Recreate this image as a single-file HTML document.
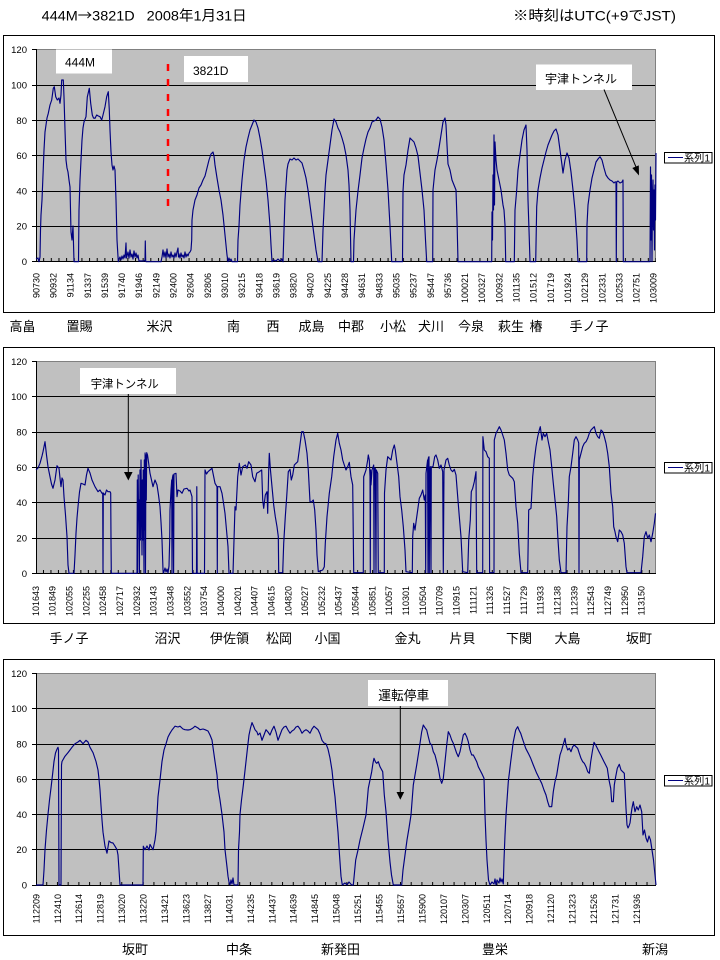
<!DOCTYPE html>
<html><head><meta charset="utf-8">
<style>
html,body{margin:0;padding:0;background:#fff;width:720px;height:960px;overflow:hidden}
svg{display:block}
text{font-family:"Liberation Sans","Noto Sans CJK JP",sans-serif;fill:#000}
.xl{font-size:9px}
.yl{font-size:9.5px}
.st{font-size:13px}
.ser{fill:none;stroke:#000080;stroke-width:1.15;stroke-linejoin:round}
.grid{stroke:#000;stroke-width:1;shape-rendering:crispEdges}
.pb{stroke:#808080;stroke-width:1;shape-rendering:crispEdges}
</style></head>
<body>
<svg width="720" height="960" viewBox="0 0 720 960" xmlns="http://www.w3.org/2000/svg">
<defs>
<pattern id="tk1" patternUnits="userSpaceOnUse" x="35.5" y="0" width="7.654" height="960"><rect x="0" y="0" width="1" height="960" fill="#000"/></pattern>
<pattern id="tk2" patternUnits="userSpaceOnUse" x="35.5" y="0" width="7.48" height="960"><rect x="0" y="0" width="1" height="960" fill="#000"/></pattern>
<pattern id="tk3" patternUnits="userSpaceOnUse" x="35.5" y="0" width="10.72" height="960"><rect x="0" y="0" width="1" height="960" fill="#000"/></pattern>
</defs>

<!-- Header -->
<text x="41.7" y="20.7" font-size="14" textLength="93" lengthAdjust="spacingAndGlyphs">444M<tspan style="font-family:'Noto Sans CJK JP',sans-serif">→</tspan>3821D</text>
<text x="146.7" y="20.7" font-size="14" textLength="100" lengthAdjust="spacingAndGlyphs">2008年1月31日</text>
<text x="513" y="20.7" font-size="14" textLength="163" lengthAdjust="spacingAndGlyphs">※時刻はUTC(+9でJST)</text>

<!-- ================= CHART 1 ================= -->
<rect x="3.5" y="35.5" width="711" height="277" fill="#fff" stroke="#000" stroke-width="1" shape-rendering="crispEdges"/>
<rect x="36" y="49" width="620" height="212.7" fill="#C0C0C0"/>
<line class="pb" x1="36" y1="49.5" x2="656" y2="49.5"/>
<line class="pb" x1="655.5" y1="49" x2="655.5" y2="262"/>
<g class="grid">
<line x1="36" y1="85.5" x2="655" y2="85.5"/>
<line x1="36" y1="120.5" x2="655" y2="120.5"/>
<line x1="36" y1="155.5" x2="655" y2="155.5"/>
<line x1="36" y1="191.5" x2="655" y2="191.5"/>
<line x1="36" y1="226.5" x2="655" y2="226.5"/>
<line x1="36.5" y1="49" x2="36.5" y2="262"/>
<line x1="36" y1="261.5" x2="656" y2="261.5"/>
<line x1="32" y1="49.5" x2="36" y2="49.5"/>
<line x1="32" y1="85.5" x2="36" y2="85.5"/>
<line x1="32" y1="120.5" x2="36" y2="120.5"/>
<line x1="32" y1="155.5" x2="36" y2="155.5"/>
<line x1="32" y1="191.5" x2="36" y2="191.5"/>
<line x1="32" y1="226.5" x2="36" y2="226.5"/>
<line x1="32" y1="261.5" x2="36" y2="261.5"/>
</g>
<rect x="36" y="258" width="620" height="4" fill="url(#tk1)"/>
<g class="yl" text-anchor="end">
<text x="27" y="52.8">120</text>
<text x="27" y="88.5">100</text>
<text x="27" y="123.8">80</text>
<text x="27" y="159.1">60</text>
<text x="27" y="194.4">40</text>
<text x="27" y="229.7">20</text>
<text x="27" y="265">0</text>
</g>

<!-- annotations chart1 (boxes) -->
<rect x="56" y="49.5" width="56" height="24" fill="#fff"/>
<text x="65" y="66.7" font-size="12">444M</text>
<rect x="184" y="56" width="64" height="26" fill="#fff"/>
<text x="193" y="75" font-size="12">3821D</text>
<line x1="168" y1="64" x2="168" y2="208" stroke="#FF0000" stroke-width="2.5" stroke-dasharray="7 8"/>

<polyline class="ser" points="36,259 38,258 39,261.7 40,257 40.5,230 41,215 42,200 43,175 44,150 45,132 46,125 47,118 48.3,113.3 50,105 51.7,100 53.3,88.3 54.3,86.7 55.7,96.7 57.3,100 59,98 60,103.3 61,95 61.7,80 63.3,80 64,97 65,130 66,160 67,168 68,172 69,180 70,187 71,232 72,240 73,226 74,261.7 78.5,261.7 79,210 80,180 81,160 82,140 83,128 84,122 86,116.7 87.3,97 89.3,88.3 90.7,103.3 92.3,115 93.5,118 95,118.3 96.7,115 98.3,116 100,116.7 101.7,120 103,115 105,106.7 106.7,96.7 108.3,91.7 109.3,110 110,130 111,152 112,165 113,170 114,166 115,170 116,200 117,240 118.3,261.7 119,259 120,257 121,260 122,256 123,259 124,255 125,258 126,243 126.5,258 127,256 128,252 129,258 130,250 131,257 132,254 133,259 134,251 135,257 136,253 137,258 138,255 139,261 144,261 145,260 145.3,241 145.7,261 146,261.7 161,261.7 162,257 163,250 164,257 165,252 166,258 167,249 168,257 169,254 170,258 171,252 172,257 173,255 174,258 175,253 176,257 177,252 178,248 178.5,257 179,254 180,258 181,253 182,257 183,255 184,258 185,252 186,257 187,254 188,256 189,253 190,252 191,250 191.7,240 192,220 193,210 195,200 197,195 199,188 201,185 203,180 205,176 207,168 209,160 211,154 213,152 214,156 215,165 217,178 219,190 221,200 223,215 225,235 227,255 228,261.7 229,258 230,261 231,259 232,261.7 237.5,261.7 238,240 239,226 240,205 242,180 244,160 246,147 248,138 250,130 252,125 254,120 256,122 258,128 260,138 262,150 264,165 266,180 268,200 270,226 271,245 272,261.7 274,260 276,261 278,259 280,261 282,259 283,261.7 284,230 285,200 286,185 287,170 288,164 290,159 292,160 294,158 296,160 298,159 300,161 302,163 304,170 306,178 308,190 310,205 312,220 314,235 316,250 318,261.7 322,261.7 323,230 324,210 325,190 326,175 328,160 330,145 332,130 334,119 336,122 338,128 340,132 342,138 344,145 346,155 348,170 349,185 350,210 351,261.7 353.5,261.7 354,240 356,210 358,191 360,175 362,158 364,148 366,139 368,132 370,128 372,122 374,121 376,120 378,117 380,119 382,127 384,140 386,164 388,190 390,226 391.7,261.7 402.5,261.7 403,191 404,175 406,165 408,150 410,138 412,140 414,142 416,148 418,156 420,173 422,190 424,210 425.5,240 426.7,261.7 432.7,261.7 433,190 435,170 437,160 439,148 441,135 443,122 445,118 446,125 447,145 448,164 450,170 452,180 454,185 456,190 457,220 458,261.7 491.7,261.7 492,212 492.5,240 493,175 493.5,210 494,135 494.5,205 495,142 496,160 497,170 499,180 501,190 503,205 504,210 505,225 505.7,261.7 514.3,261.7 515,210 516.7,190 518,170 520,155 522,140 524,130 526,125 527,150 528,200 529,230 530,261.7 535.7,261.7 536.7,206.7 538,190 540,178 542,168 544,160 546,152 548,145 550,140 552,135 554,131 556,129 558,135 560,150 562,165 563,173 565,160 567,153 569,158 571,172 573,190 575,210 577,240 578,261.7 586.7,261.7 587,225 588,205 590,190 592,178 594,170 596,162 598,159 600,156.7 602,160 604,168 606,175 608,178 610,180 612,181 614,183 615,182 616,182 616.3,261.7 616.7,182 618,181 620,183 622,182 623,180 623.3,261.7 650,261.7 650.5,167 651,240 651.5,175 652,261.7 652.5,200 653,180 653.5,230 654,190 654.5,250 655,185 655.5,220 656,153"/>

<rect x="536" y="64.5" width="96" height="25.5" fill="#fff"/>
<text x="545" y="83" font-size="12" textLength="72" lengthAdjust="spacingAndGlyphs">宇津トンネル</text>
<line x1="604" y1="89.5" x2="636" y2="167" stroke="#000" stroke-width="1"/>
<polygon points="639,175.5 632.3,168 638.8,165.4" fill="#000"/>

<!-- legend 1 -->
<rect x="664.5" y="152.5" width="47.5" height="10.5" fill="#fff" stroke="#000" stroke-width="1" shape-rendering="crispEdges"/>
<line x1="668" y1="157.5" x2="683" y2="157.5" stroke="#000080" stroke-width="1"/>
<text x="684" y="161.5" font-size="10" textLength="26" lengthAdjust="spacingAndGlyphs">系列1</text>

<!-- x labels chart1 -->
<g class="xl" text-anchor="end">
<text transform="translate(39.3 273) rotate(-90)">90730</text>
<text transform="translate(56.45 273) rotate(-90)">90932</text>
<text transform="translate(73.6 273) rotate(-90)">91134</text>
<text transform="translate(90.75 273) rotate(-90)">91337</text>
<text transform="translate(107.9 273) rotate(-90)">91539</text>
<text transform="translate(125.05 273) rotate(-90)">91740</text>
<text transform="translate(142.2 273) rotate(-90)">91946</text>
<text transform="translate(159.35 273) rotate(-90)">92149</text>
<text transform="translate(176.5 273) rotate(-90)">92400</text>
<text transform="translate(193.65 273) rotate(-90)">92604</text>
<text transform="translate(210.8 273) rotate(-90)">92806</text>
<text transform="translate(227.95 273) rotate(-90)">93010</text>
<text transform="translate(245.1 273) rotate(-90)">93215</text>
<text transform="translate(262.25 273) rotate(-90)">93418</text>
<text transform="translate(279.4 273) rotate(-90)">93619</text>
<text transform="translate(296.55 273) rotate(-90)">93820</text>
<text transform="translate(313.7 273) rotate(-90)">94020</text>
<text transform="translate(330.85 273) rotate(-90)">94225</text>
<text transform="translate(348 273) rotate(-90)">94428</text>
<text transform="translate(365.15 273) rotate(-90)">94631</text>
<text transform="translate(382.3 273) rotate(-90)">94833</text>
<text transform="translate(399.45 273) rotate(-90)">95035</text>
<text transform="translate(416.6 273) rotate(-90)">95237</text>
<text transform="translate(433.75 273) rotate(-90)">95447</text>
<text transform="translate(450.9 273) rotate(-90)">95736</text>
<text transform="translate(468.05 273) rotate(-90)">100021</text>
<text transform="translate(485.2 273) rotate(-90)">100327</text>
<text transform="translate(502.35 273) rotate(-90)">100932</text>
<text transform="translate(519.5 273) rotate(-90)">101135</text>
<text transform="translate(536.65 273) rotate(-90)">101512</text>
<text transform="translate(553.8 273) rotate(-90)">101719</text>
<text transform="translate(570.95 273) rotate(-90)">101924</text>
<text transform="translate(588.1 273) rotate(-90)">102129</text>
<text transform="translate(605.25 273) rotate(-90)">102331</text>
<text transform="translate(622.4 273) rotate(-90)">102533</text>
<text transform="translate(639.55 273) rotate(-90)">102751</text>
<text transform="translate(656.7 273) rotate(-90)">103009</text>
</g>

<!-- stations chart1 -->
<g class="st">
<text x="9.5" y="331">高畠</text>
<text x="66.5" y="331">置賜</text>
<text x="146.5" y="331">米沢</text>
<text x="227" y="331">南</text>
<text x="266.5" y="331">西</text>
<text x="298.5" y="331">成島</text>
<text x="338" y="331">中郡</text>
<text x="380" y="331">小松</text>
<text x="418" y="331">犬川</text>
<text x="458" y="331">今泉</text>
<text x="498" y="331">萩生</text>
<text x="529.5" y="331">椿</text>
<text x="569.5" y="331">手ノ子</text>
</g>

<!-- ================= CHART 2 ================= -->
<rect x="3.5" y="347.5" width="711" height="276" fill="#fff" stroke="#000" stroke-width="1" shape-rendering="crispEdges"/>
<rect x="36" y="361" width="620" height="212.3" fill="#C0C0C0"/>
<line class="pb" x1="36" y1="361.5" x2="656" y2="361.5"/>
<line class="pb" x1="655.5" y1="361" x2="655.5" y2="573"/>
<g class="grid">
<line x1="36" y1="396.5" x2="655" y2="396.5"/>
<line x1="36" y1="432.5" x2="655" y2="432.5"/>
<line x1="36" y1="467.5" x2="655" y2="467.5"/>
<line x1="36" y1="502.5" x2="655" y2="502.5"/>
<line x1="36" y1="538.5" x2="655" y2="538.5"/>
<line x1="36.5" y1="361" x2="36.5" y2="574"/>
<line x1="36" y1="573.5" x2="656" y2="573.5"/>
<line x1="32" y1="361.5" x2="36" y2="361.5"/>
<line x1="32" y1="396.5" x2="36" y2="396.5"/>
<line x1="32" y1="432.5" x2="36" y2="432.5"/>
<line x1="32" y1="467.5" x2="36" y2="467.5"/>
<line x1="32" y1="502.5" x2="36" y2="502.5"/>
<line x1="32" y1="538.5" x2="36" y2="538.5"/>
<line x1="32" y1="573.5" x2="36" y2="573.5"/>
</g>
<rect x="36" y="570" width="620" height="4" fill="url(#tk2)"/>
<g class="yl" text-anchor="end">
<text x="27" y="364.8">120</text>
<text x="27" y="400">100</text>
<text x="27" y="435.6">80</text>
<text x="27" y="470.8">60</text>
<text x="27" y="506">40</text>
<text x="27" y="541.6">20</text>
<text x="27" y="576.8">0</text>
</g>

<polyline class="ser" points="36,470 38,468 40,463.3 42,456 43,451.7 45,441.7 46.5,455 48,466.7 50,476.7 51.5,484 53,488.3 55,480 57,465.7 59,468.3 60,478 61,486.7 62,478 63,480 64,496.7 65.5,515 67,536.7 68,565 69,573.3 74,573.3 75,555 76,533.3 77,518 78,506.7 79.5,492 81,483.3 83,484 85,485 86.5,475 88,468.3 90,473 92,480 95,486.7 98,491.7 100,490 102,493.3 102.7,493 103,573.3 103.3,493 105,495 106.5,490 108,491.7 110,491.7 110.7,493 111,540 111.3,573.3 137,573.3 137.3,480 137.6,573 138.2,475 138.6,520 139,500 139.4,573 140,470 140.5,540 141,460 141.5,500 142,555 142.4,480 142.8,540 143.2,470 143.6,520 144,573 144.3,460 144.7,530 145.1,453 145.5,573 145.9,455 146.3,500 146.7,452.7 147.5,455 148.5,462 150,473.3 151.5,480 153,486.7 155,480 157,485 158.5,495 160,506.7 161,522 162,540 163,570 163.5,573.3 165,568 166,572 167,569 168,573 169,566 169.7,540 170,510 171,490 171.7,480 172,573.3 172.4,478 173,475 173.6,573.3 174,474 176,473.3 177,496.7 178,490 180,491 182,493.3 184,489 187,488.3 189,491 190,490 192,496.7 192.5,573.3 196.5,573.3 196.8,486.7 197.2,573.3 204.5,573.3 205,470 206.5,474 208,471.7 210,470 212,468.3 213,473.3 215,483.3 217,486.7 217.3,573.3 217.6,486.7 220,486.7 222,493.3 223.5,503 225,513.3 226.5,530 228,546.7 229,573.3 233,573.3 234,540 235,506.7 236,510 237.7,476.7 239.3,463.3 241,475 242.7,466.7 245.3,465 247,468.3 248.7,461.7 251,465 252.7,476.7 255,481.7 256.7,473.3 259.3,471.7 261.7,470 262.7,500 263.7,508.3 265.3,495 267,491.7 267.7,513.3 268.7,470 269.3,453.3 270.3,468.3 272,486.7 273.7,505 275.3,516.7 277,526.7 278.3,536.7 278.7,572.7 282.7,572.7 283.7,543.3 285.3,516.7 286.7,496.7 288.3,471.7 290,469.3 291.3,480 292.7,475 294.3,465 296,463.3 297.7,461.7 299.3,450 301.7,431.7 303.3,431.7 305,440 307,453.3 308.3,470 310,501.7 311.5,502 313.3,500 314.7,510 316,530 317,555 318.3,571.7 322.7,570 324.3,566.7 325.3,543.3 327,516.7 329.3,493.3 331.7,476.7 333.7,456.7 336,440 337.7,433.3 339.3,443.3 341,450 342.7,460 344.3,465 346,470 347.7,466.7 349.3,462.3 351,476.7 352.7,485 353.7,572.7 363.3,572.7 363.7,476.7 364.3,475 366,470 367.7,460 368.3,455 369.3,460 370,476.7 370.3,572.7 370.6,470 371,485 372,470 373.7,465 374,572.7 374.3,468 375.3,468.3 376,572.7 376.3,470 377.7,473.3 378.3,572.7 384.3,572.7 384.5,493 386,470 387.7,456.7 389.3,458.3 391,460 392.7,450 394.3,445 395.3,450 397,463.3 398.7,476.7 400,496.7 401.7,510 403.3,526.7 405,550 406,571.7 412.3,572.7 412.7,536.7 413.7,523.3 415,530 416.3,520 417.7,510 419.3,498.3 421,495 422.7,490 424.3,500 425.3,495 425.7,572.7 426,473.3 427.6,460 428,572.7 428.3,458 429,456.7 429.3,572.7 429.7,470 430.3,466.7 431,572.7 431.3,467 433,466.7 434.7,456.7 436,455 437.7,460 439.3,468.3 441,465 442.7,471.7 443.3,572.7 444,470 446,460 447.7,458.3 449.3,465 451,470 452.7,471.7 454.3,469.3 456,475 457.7,496.7 459.3,516.7 461,536.7 462.7,571.7 467.7,572.7 468.7,540 470.3,520 471.3,491.7 472.7,488.3 474.3,481.7 476,471.7 476.7,572.7 482.7,572.7 482.9,436.7 484.3,450 486,451.7 487.7,456.7 489.3,458.3 489.6,572.7 494,572.7 494.3,440 496,433.3 497.7,430 499.3,426.7 501,430 502.7,435 504.3,440 506,453.3 507.7,470 509.3,475 511,476.7 512.7,478.3 514.3,481.7 516,506.7 517.7,523.3 519.3,553.3 521,572.7 527.7,572.7 528.7,510 531,508.3 532.7,476.7 534.3,460 536,446.7 537.7,436.7 539.3,430 540.3,426.7 542,440 543.3,433.3 545,436.7 546.7,433.3 548.3,441.7 550,450 551.7,466.7 553.3,483.3 555,500 556.7,516.7 558,540 559.3,560 561,572.7 566,572.7 567,526.7 568.3,503.3 569.3,476.7 571,466.7 572.7,453.3 574.3,440 576,436.7 577.7,440 578.7,443 579,572.7 579.3,460 581,453.3 582.7,446.7 584.3,443.3 586,441.7 587.7,438.3 589.3,433.3 591,430 592.7,428.3 594.3,426.7 596,433.3 597.7,436.7 599.3,438.3 601,430 602.7,431.7 604.3,436.7 606,443.3 607.7,453.3 609.3,466.7 611,493.3 612.7,506.7 613.7,526.7 615,531.7 616,536.7 617.7,541.7 619.3,530 621,531.7 622.7,535 624.3,543.3 626,566.7 627,572.7 641,572.7 642.7,556.7 644.3,536.7 646,531.7 647.7,538.3 649.3,535 651,541.7 652.7,533.3 654.3,523.3 655.5,513.3"/>

<rect x="80" y="368" width="96" height="26" fill="#fff"/>
<text x="90.7" y="388" font-size="12" textLength="68" lengthAdjust="spacingAndGlyphs">宇津トンネル</text>
<line x1="128.3" y1="394" x2="128.3" y2="473" stroke="#000" stroke-width="1"/>
<polygon points="124,472 132.6,472 128.3,480.5" fill="#000"/>

<rect x="664.5" y="462.5" width="47.5" height="10.5" fill="#fff" stroke="#000" stroke-width="1" shape-rendering="crispEdges"/>
<line x1="668" y1="467.5" x2="683" y2="467.5" stroke="#000080" stroke-width="1"/>
<text x="684" y="471.5" font-size="10" textLength="26" lengthAdjust="spacingAndGlyphs">系列1</text>

<g class="xl" text-anchor="end">
<text transform="translate(38.8 586) rotate(-90)">101643</text>
<text transform="translate(55.63 586) rotate(-90)">101849</text>
<text transform="translate(72.46 586) rotate(-90)">102055</text>
<text transform="translate(89.29 586) rotate(-90)">102255</text>
<text transform="translate(106.12 586) rotate(-90)">102458</text>
<text transform="translate(122.95 586) rotate(-90)">102717</text>
<text transform="translate(139.78 586) rotate(-90)">102932</text>
<text transform="translate(156.61 586) rotate(-90)">103143</text>
<text transform="translate(173.44 586) rotate(-90)">103348</text>
<text transform="translate(190.27 586) rotate(-90)">103552</text>
<text transform="translate(207.1 586) rotate(-90)">103754</text>
<text transform="translate(223.93 586) rotate(-90)">104000</text>
<text transform="translate(240.76 586) rotate(-90)">104201</text>
<text transform="translate(257.59 586) rotate(-90)">104407</text>
<text transform="translate(274.42 586) rotate(-90)">104615</text>
<text transform="translate(291.25 586) rotate(-90)">104820</text>
<text transform="translate(308.08 586) rotate(-90)">105027</text>
<text transform="translate(324.91 586) rotate(-90)">105232</text>
<text transform="translate(341.74 586) rotate(-90)">105437</text>
<text transform="translate(358.57 586) rotate(-90)">105644</text>
<text transform="translate(375.4 586) rotate(-90)">105851</text>
<text transform="translate(392.23 586) rotate(-90)">110057</text>
<text transform="translate(409.06 586) rotate(-90)">110301</text>
<text transform="translate(425.89 586) rotate(-90)">110504</text>
<text transform="translate(442.72 586) rotate(-90)">110709</text>
<text transform="translate(459.55 586) rotate(-90)">110915</text>
<text transform="translate(476.38 586) rotate(-90)">111121</text>
<text transform="translate(493.21 586) rotate(-90)">111326</text>
<text transform="translate(510.04 586) rotate(-90)">111527</text>
<text transform="translate(526.87 586) rotate(-90)">111729</text>
<text transform="translate(543.7 586) rotate(-90)">111933</text>
<text transform="translate(560.53 586) rotate(-90)">112138</text>
<text transform="translate(577.36 586) rotate(-90)">112339</text>
<text transform="translate(594.19 586) rotate(-90)">112543</text>
<text transform="translate(611.02 586) rotate(-90)">112749</text>
<text transform="translate(627.85 586) rotate(-90)">112950</text>
<text transform="translate(644.68 586) rotate(-90)">113150</text>
</g>

<g class="st">
<text x="49.5" y="643">手ノ子</text>
<text x="154.5" y="643">沼沢</text>
<text x="210" y="643">伊佐領</text>
<text x="266" y="643">松岡</text>
<text x="314.5" y="643">小国</text>
<text x="394.5" y="643">金丸</text>
<text x="449.5" y="643">片貝</text>
<text x="506" y="643">下関</text>
<text x="554.5" y="643">大島</text>
<text x="626" y="643">坂町</text>
</g>

<!-- ================= CHART 3 ================= -->
<rect x="3.5" y="659.5" width="711" height="276" fill="#fff" stroke="#000" stroke-width="1" shape-rendering="crispEdges"/>
<rect x="36" y="673" width="620" height="212" fill="#C0C0C0"/>
<line class="pb" x1="36" y1="673.5" x2="656" y2="673.5"/>
<line class="pb" x1="655.5" y1="673" x2="655.5" y2="885"/>
<g class="grid">
<line x1="36" y1="708.5" x2="655" y2="708.5"/>
<line x1="36" y1="744.5" x2="655" y2="744.5"/>
<line x1="36" y1="779.5" x2="655" y2="779.5"/>
<line x1="36" y1="814.5" x2="655" y2="814.5"/>
<line x1="36" y1="849.5" x2="655" y2="849.5"/>
<line x1="36.5" y1="673" x2="36.5" y2="886"/>
<line x1="36" y1="885.5" x2="656" y2="885.5"/>
<line x1="32" y1="673.5" x2="36" y2="673.5"/>
<line x1="32" y1="708.5" x2="36" y2="708.5"/>
<line x1="32" y1="744.5" x2="36" y2="744.5"/>
<line x1="32" y1="779.5" x2="36" y2="779.5"/>
<line x1="32" y1="814.5" x2="36" y2="814.5"/>
<line x1="32" y1="849.5" x2="36" y2="849.5"/>
<line x1="32" y1="885.5" x2="36" y2="885.5"/>
</g>
<rect x="36" y="882" width="620" height="4" fill="url(#tk3)"/>
<g class="yl" text-anchor="end">
<text x="27" y="676.8">120</text>
<text x="27" y="712">100</text>
<text x="27" y="747.5">80</text>
<text x="27" y="782.6">60</text>
<text x="27" y="817.8">40</text>
<text x="27" y="853">20</text>
<text x="27" y="888.5">0</text>
</g>

<polyline class="ser" points="36,885 43,885 44,870 45,849.7 46.5,830 48,814.4 49.5,800 51,787.9 52.5,775 54,761.5 55.5,753 57,749.1 58,747.3 58.5,750 59,885 61,885 61.5,765 62,761.5 65,756.2 68,752.6 70,750 72,747.3 75,743.8 78,742 80,740.3 83,743.8 86,740.3 88,742 90,747.3 93,752.6 96,761.5 98,770 99,779.1 100,790 101,805.6 102,820 103,832.1 105,846.2 107,853.2 109,840.9 111,842.6 113,843 115,846.2 117,849.7 118,855 119,870 120,885 143,885 143.3,846.2 145,849.7 147,846 149,850 150,844.4 152,848 153,849.7 154,845 155,840 156,832.1 157,815 158,796.8 160,780 162,761.5 164,750 166,743.8 168,737 170,733.2 172,730 175,726.2 178,727 180,726.2 183,729 185,729.7 188,730 190,729.7 193,728 195,726.2 198,728 200,729.7 203,729 205,729.7 208,731 210,735 212,740 213,747.3 215,761.5 217,775 218,787.9 220,800 222,814.4 224,832 225,849.7 227,867 228,876.2 229,882 230,885 231,880 232,884 233,878 234,885 238,885 238.5,849.7 239.5,832 240,814.4 241.5,800 243,787.9 244.5,775 246,761.5 247.5,748 249,735 250.5,728 252,722.6 253.5,726 255,729.7 257,732 258,735 260,733 262,740.3 264,735 266,729.7 268,732 270,735 272,730 274,726.2 276,732 278,740.3 280,735 282,729.7 284,727 286,726.2 288,730 290,733.2 292,731 294,729.7 296,727 298,726.2 300,729 302,733.2 304,731 306,729.7 308,731 310,733.2 312,729 314,726.2 316,728 318,729.7 320,734 322,740.3 324,743 326,743.8 328,749.1 330,758 332,770.3 333.5,785 335,796.8 336.5,815 338,832.1 339.5,855 341,876.2 342.3,885 345,883 347,885 349,882 351.7,885 353.3,885 355.7,860 358,850 360,840 363,828 366,815 368.3,788.3 370,780 371.7,771.7 373,763 374,758.3 375.5,762 376.7,763.3 378.3,761.7 380,766.7 382.7,771.7 384.3,795 386,811.7 388,840 390,862 391.5,875 393.3,885 401.7,885 403,870 405,855 407,840 409,828 411,815 413.3,785 415,775 416.7,765 419.3,748.3 421.7,731.7 423.3,725 425,727.7 426.7,730 428.3,736.7 430,743.3 431.7,745 433.3,751.7 435,755 436.7,761.7 438.3,768.3 440,778.3 441.7,783.3 443.3,778.3 445,761.7 446.7,745 448.3,731.7 450,735 451.7,740 453.3,743.3 455,748.3 456.7,753.3 458.3,756.7 460,751.7 461.7,743.3 463.3,735 465,733.3 466.7,736.7 468.3,741.7 470,750 471.7,755 473.3,755 475,758.3 476.7,761.7 478.3,766.7 480,770 481.7,773.3 484,778.3 485,815 486,840 487,860 488.5,880 490,885 492,882 494,884 495,879 496,885 497,880 499,883 500,878 501,882 502,879 503.3,884 504,860 505,835 506,815 508.3,781.7 510.7,761.7 513.3,741.7 515.7,730 517.7,726.7 519,730 520.7,733.3 522.3,738.3 524,743.3 525.7,748.3 528.3,753.3 530.7,758.3 533.3,765 536.7,773.3 540,780 541.7,783.3 544,790 546,795 547.7,801.7 549.3,806.7 551.7,806.7 553.3,791.7 555,781.7 556.7,775 558.3,765 560,755 561.7,750 563.3,744.3 565,738.3 566,745 567.7,750 569.3,748.3 571,751.7 572.7,746.7 574.3,745 576,746.7 577.7,748.3 579.3,753.3 581,758.3 582.7,761.7 584.3,763.3 586,766.7 587.7,771.7 589.3,773.3 590.7,761.7 592.3,751.7 594,742.3 595.7,745 597.3,748.3 599,751.7 600.7,755 602.3,758.3 604,761.7 605.7,765 607.3,768.3 609,780 610.7,788.3 611.7,801.7 613.3,801.7 614.3,785 615.7,776.7 617.3,768.3 619.3,764.3 621,770 622.7,771.7 624.3,773.3 626,808.3 627,825 628,828 629,826 630,823 631,815 632,808 633.3,801.7 635,811.7 636.7,806.7 638.3,810 640,805 641.7,811.7 643,835 644.5,830 646,838 647.5,842 649,836 650.5,840 652,850 653.5,860 655,875 656,885"/>

<rect x="368" y="680" width="80" height="26" fill="#fff"/>
<text x="378.3" y="700" font-size="13" textLength="51" lengthAdjust="spacingAndGlyphs">運転停車</text>
<line x1="400.3" y1="706" x2="400.3" y2="793" stroke="#000" stroke-width="1"/>
<polygon points="396.5,792 404.2,792 400.3,799.8" fill="#000"/>

<rect x="664.5" y="775.5" width="47.5" height="10.5" fill="#fff" stroke="#000" stroke-width="1" shape-rendering="crispEdges"/>
<line x1="668" y1="780.5" x2="683" y2="780.5" stroke="#000080" stroke-width="1"/>
<text x="684" y="784.5" font-size="10" textLength="26" lengthAdjust="spacingAndGlyphs">系列1</text>

<g class="xl" text-anchor="end">
<text transform="translate(39.3 894) rotate(-90)">112209</text>
<text transform="translate(60.75 894) rotate(-90)">112410</text>
<text transform="translate(82.2 894) rotate(-90)">112614</text>
<text transform="translate(103.65 894) rotate(-90)">112819</text>
<text transform="translate(125.1 894) rotate(-90)">113020</text>
<text transform="translate(146.55 894) rotate(-90)">113220</text>
<text transform="translate(168 894) rotate(-90)">113421</text>
<text transform="translate(189.45 894) rotate(-90)">113623</text>
<text transform="translate(210.9 894) rotate(-90)">113827</text>
<text transform="translate(232.35 894) rotate(-90)">114031</text>
<text transform="translate(253.8 894) rotate(-90)">114235</text>
<text transform="translate(275.25 894) rotate(-90)">114437</text>
<text transform="translate(296.7 894) rotate(-90)">114639</text>
<text transform="translate(318.15 894) rotate(-90)">114845</text>
<text transform="translate(339.6 894) rotate(-90)">115048</text>
<text transform="translate(361.05 894) rotate(-90)">115251</text>
<text transform="translate(382.5 894) rotate(-90)">115455</text>
<text transform="translate(403.95 894) rotate(-90)">115657</text>
<text transform="translate(425.4 894) rotate(-90)">115900</text>
<text transform="translate(446.85 894) rotate(-90)">120107</text>
<text transform="translate(468.3 894) rotate(-90)">120307</text>
<text transform="translate(489.75 894) rotate(-90)">120511</text>
<text transform="translate(511.2 894) rotate(-90)">120714</text>
<text transform="translate(532.65 894) rotate(-90)">120918</text>
<text transform="translate(554.1 894) rotate(-90)">121120</text>
<text transform="translate(575.55 894) rotate(-90)">121323</text>
<text transform="translate(597 894) rotate(-90)">121526</text>
<text transform="translate(618.45 894) rotate(-90)">121731</text>
<text transform="translate(639.9 894) rotate(-90)">121936</text>
</g>

<g class="st">
<text x="122" y="954">坂町</text>
<text x="226" y="954">中条</text>
<text x="321" y="954">新発田</text>
<text x="482" y="954">豊栄</text>
<text x="642" y="954">新潟</text>
</g>

</svg>
</body></html>
